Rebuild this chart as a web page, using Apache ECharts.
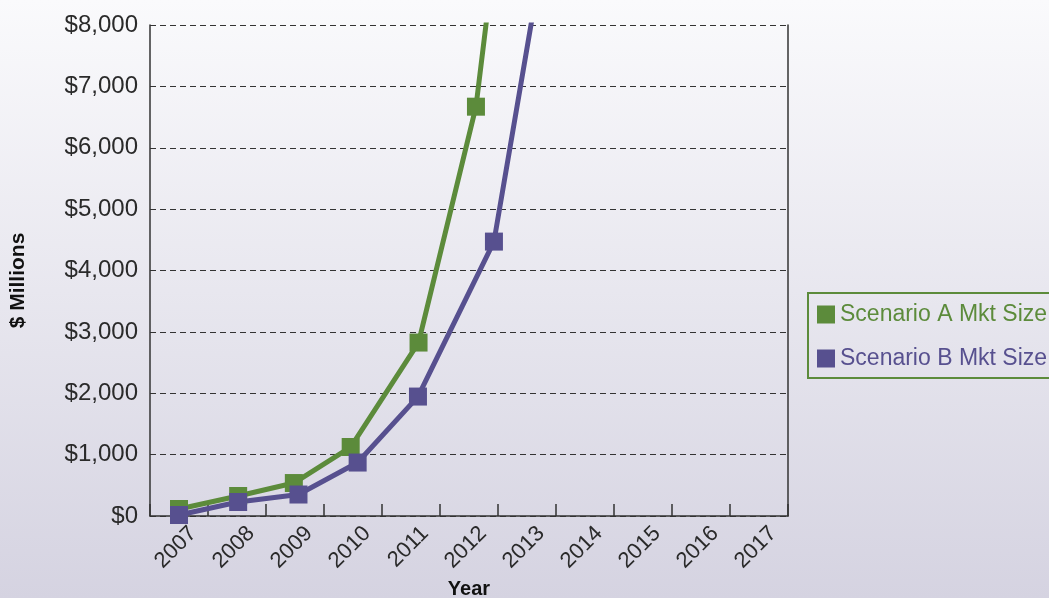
<!DOCTYPE html>
<html>
<head>
<meta charset="utf-8">
<script src="https://cdn.jsdelivr.net/npm/echarts@6/dist/echarts.min.js"></script>
<style>
html,body{margin:0;padding:0;}
#chart{width:1049px;height:598px;}
</style>
</head>
<body>
<div id="chart"></div>
<script>
// Category labels (years)
var years = ['2007','2008','2009','2010','2011','2012','2013','2014','2015','2016','2017'];
// Scenario A: year position and market size ($ millions)
var scenarioAYear = [2007.0, 2008.02, 2008.98, 2009.96, 2011.13, 2012.12, 2013.12];
var scenarioAValue = [114, 326, 537, 1124, 2826, 6669, 14400];
// Scenario B: year position and market size ($ millions)
var scenarioBYear = [2007.0, 2008.02, 2009.06, 2010.08, 2011.12, 2012.43, 2013.43];
var scenarioBValue = [16, 228, 350, 871, 1946, 4471, 10000];
// Y axis ticks
var yMin = 0, yMax = 8000, yStep = 1000;

var green = '#5c8b3b';
var purple = '#57508f';
var axisColor = '#333333';

function pairs(xs, ys){ return xs.map(function(x,i){ return [x, ys[i]]; }); }

var chart = echarts.init(document.getElementById('chart'));
chart.setOption({
  animation: false,
  backgroundColor: {
    type: 'linear', x: 0, y: 0, x2: 0, y2: 1,
    colorStops: [{offset: 0, color: '#fafafc'}, {offset: 1, color: '#d5d3e1'}]
  },
  grid: {left: 150, right: 261, top: 25, bottom: 82, containLabel: false, outerBoundsMode: 'none'},
  legend: {
    orient: 'vertical',
    left: 808, top: 293,
    borderColor: green, borderWidth: 2,
    padding: [10, 12, 8, 9],
    itemWidth: 18, itemHeight: 18, itemGap: 21,
    icon: 'rect',
    textStyle: {fontFamily: 'Liberation Sans', fontSize: 23},
    data: [
      {name: 'Scenario A Mkt Size', textStyle: {color: green}},
      {name: 'Scenario B Mkt Size', textStyle: {color: purple}}
    ]
  },
  xAxis: [{
    type: 'category',
    data: years,
    boundaryGap: true,
    name: 'Year',
    nameLocation: 'middle',
    nameGap: 63,
    nameTextStyle: {fontFamily: 'Liberation Sans', fontWeight: 'bold', fontSize: 20, color: '#111'},
    axisLine: {lineStyle: {color: axisColor, width: 1.5}},
    axisTick: {show: true, inside: true, length: 12, interval: 0, lineStyle: {color: axisColor, width: 1.5}},
    axisLabel: {
      interval: 0, rotate: 45, margin: 0, verticalAlign: 'top', padding: [9, 0, 0, 0],
      fontFamily: 'Liberation Sans', fontSize: 22, color: '#2a2a2a'
    },
    splitLine: {show: false}
  }, {
    type: 'value',
    min: 2006.5, max: 2017.5,
    show: false
  }],
  yAxis: [{
    type: 'value',
    min: yMin, max: yMax, interval: yStep,
    name: '$ Millions',
    nameLocation: 'middle',
    nameGap: 121,
    nameRotate: 90,
    nameTextStyle: {fontFamily: 'Liberation Sans', fontWeight: 'bold', fontSize: 21, color: '#111', padding: [0, 20, 0, 0]},
    axisLine: {show: true, lineStyle: {color: axisColor, width: 1.5}},
    axisTick: {show: false},
    axisLabel: {
      margin: 12, fontFamily: 'Liberation Sans', fontSize: 24, color: '#2a2a2a',
      formatter: function(v){ return '$' + v.toLocaleString('en-US'); }
    },
    splitLine: {show: true, lineStyle: {color: '#333', width: 1.2, type: [6, 4]}}
  }, {
    type: 'value',
    min: yMin, max: yMax, interval: yStep,
    position: 'right',
    axisLine: {show: true, lineStyle: {color: axisColor, width: 1.5}},
    axisTick: {show: false},
    axisLabel: {show: false},
    splitLine: {show: false}
  }],
  series: [{
    name: 'Scenario A Mkt Size',
    type: 'line',
    xAxisIndex: 1, yAxisIndex: 0,
    data: pairs(scenarioAYear, scenarioAValue),
    symbol: 'rect', symbolSize: 18,
    lineStyle: {color: green, width: 5},
    itemStyle: {color: green},
    clip: true
  }, {
    name: 'Scenario B Mkt Size',
    type: 'line',
    xAxisIndex: 1, yAxisIndex: 0,
    data: pairs(scenarioBYear, scenarioBValue),
    symbol: 'rect', symbolSize: 18,
    lineStyle: {color: purple, width: 5},
    itemStyle: {color: purple},
    clip: true
  }]
});
</script>
</body>
</html>
